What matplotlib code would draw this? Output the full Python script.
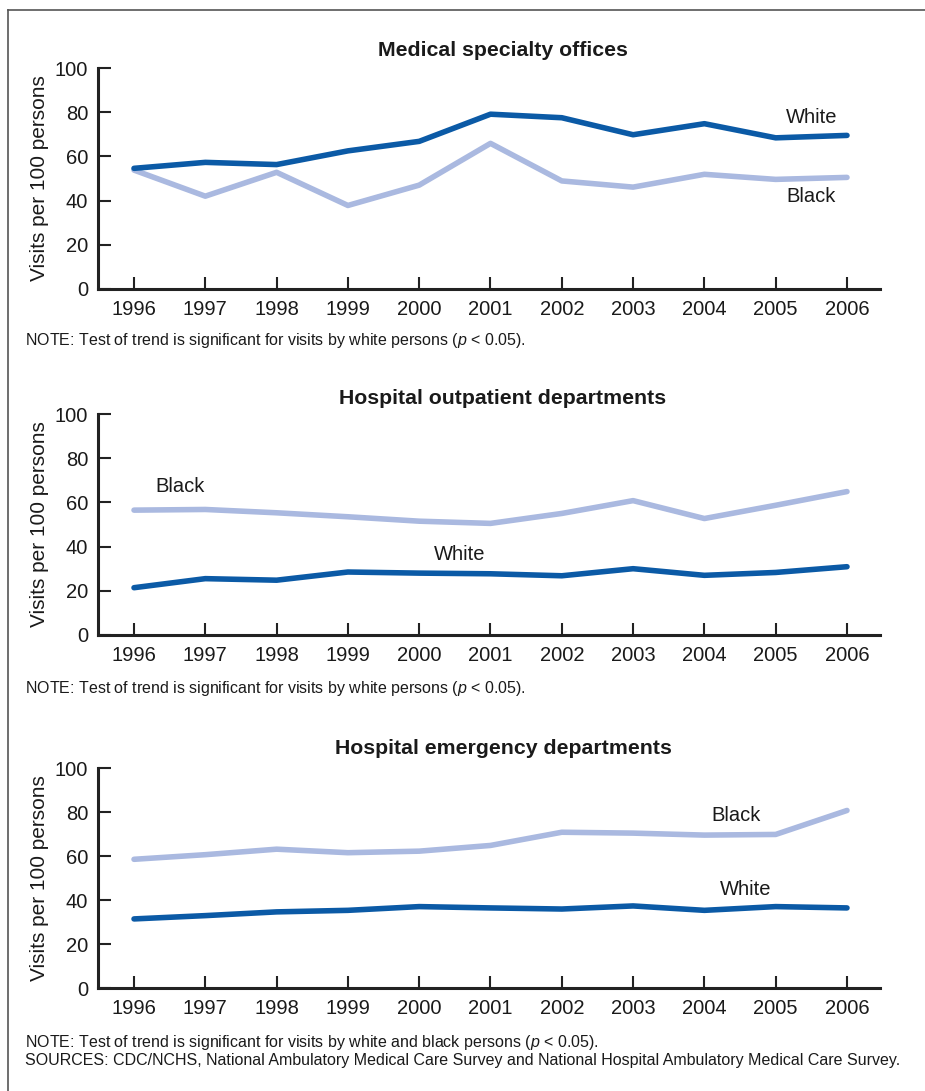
import matplotlib
matplotlib.use("Agg")
import matplotlib.pyplot as plt
from matplotlib.lines import Line2D

plt.rcParams["font.family"] = ["Liberation Sans", "DejaVu Sans"]
plt.rcParams["mathtext.fontset"] = "custom"
plt.rcParams["mathtext.it"] = "Liberation Sans:italic"
plt.rcParams["mathtext.rm"] = "Liberation Sans"

# ---- data (visits per 100 persons) ----
years = [1996, 1997, 1998, 1999, 2000, 2001, 2002, 2003, 2004, 2005, 2006]

titles = ["Medical specialty offices",
          "Hospital outpatient departments",
          "Hospital emergency departments"]

white_office = [54.6, 57.3, 56.3, 62.5, 66.8, 79.1, 77.5, 69.8, 74.8, 68.4, 69.5]
black_office = [53.8, 42.0, 52.8, 37.8, 47.0, 65.9, 48.9, 46.1, 51.9, 49.6, 50.5]

white_opd = [21.4, 25.5, 24.8, 28.5, 28.0, 27.7, 26.8, 30.0, 27.0, 28.3, 30.9]
black_opd = [56.5, 56.8, 55.3, 53.5, 51.5, 50.5, 55.0, 60.8, 52.7, 58.7, 64.9]

white_ed = [31.4, 32.9, 34.6, 35.3, 37.0, 36.4, 35.9, 37.3, 35.3, 37.0, 36.4]
black_ed = [58.5, 60.6, 63.1, 61.5, 62.2, 64.8, 70.8, 70.4, 69.5, 69.8, 80.7]

notes = ["NOTE: Test of trend is significant for visits by white persons ($p$ < 0.05).",
         "NOTE: Test of trend is significant for visits by white persons ($p$ < 0.05).",
         "NOTE: Test of trend is significant for visits by white and black persons ($p$ < 0.05)."]
sources = "SOURCES: CDC/NCHS, National Ambulatory Medical Care Survey and National Hospital Ambulatory Medical Care Survey."

WHITE_COL = "#0b5aa6"
BLACK_COL = "#aab9e0"
W, H = 925, 1091

fig = plt.figure(figsize=(W / 100, H / 100), dpi=100)

# outer frame (top and left only)
fig.add_artist(Line2D([8 / W, 8 / W], [0, 1 - 10 / H], color="#555555", lw=1.2))
fig.add_artist(Line2D([8 / W, 1], [1 - 10 / H, 1 - 10 / H], color="#555555", lw=1.2))

# panel geometry in pixels: (y of 100, y of 0, title y, note y)
panels = [(68, 289, 50, 341), (414, 635, 398, 689), (768, 988, 749, 1042)]
series = [(white_office, black_office), (white_opd, black_opd), (white_ed, black_ed)]
# label positions (data coords): (white x, white y, black x, black y)
label_pos = [(2005.5, 77.4, 2005.5, 42.0),
             (2000.57, 36.2, 1996.65, 67.4),
             (2004.58, 44.8, 2004.44, 78.3)]

for i in range(3):
    top, bot, ty, ny = panels[i]
    ax = fig.add_axes([98 / W, 1 - bot / H, (880 - 98) / W, (bot - top) / H])
    white, black = series[i]
    ax.plot(years, black, color=BLACK_COL, lw=4, solid_capstyle="round", solid_joinstyle="round")
    ax.plot(years, white, color=WHITE_COL, lw=4, solid_capstyle="round", solid_joinstyle="round")
    ax.set_xlim(1995.495, 2006.463)
    ax.set_ylim(0, 100)
    ax.set_xticks(years)
    ax.set_yticks([0, 20, 40, 60, 80, 100])
    ax.spines["top"].set_visible(False)
    ax.spines["right"].set_visible(False)
    for s in ["left", "bottom"]:
        ax.spines[s].set_linewidth(2.2)
        ax.spines[s].set_color("#222222")
    ax.tick_params(axis="both", direction="in", length=9, width=1.5, color="#222222",
                   labelsize=14.5, labelcolor="#1a1a1a")
    ax.tick_params(axis="x", pad=8)
    ax.tick_params(axis="y", pad=7)
    ax.set_ylabel("Visits per 100 persons", fontsize=15, color="#1a1a1a", labelpad=4)
    ax.patch.set_alpha(0)

    wx, wy, bx, by = label_pos[i]
    ax.text(wx, wy, "White", fontsize=14.5, ha="center", va="center", color="#1a1a1a")
    ax.text(bx, by, "Black", fontsize=14.5, ha="center", va="center", color="#1a1a1a")

    fig.text(503 / W, 1 - ty / H, titles[i], fontsize=15.3, fontweight="bold",
             ha="center", va="center", color="#1a1a1a")
    fig.text(25 / W, 1 - ny / H, notes[i], fontsize=11.5, ha="left", va="center", color="#1a1a1a")

fig.text(25 / W, 1 - 1061 / H, sources, fontsize=11.5, ha="left", va="center", color="#1a1a1a")

fig.savefig("out.png", dpi=100)
